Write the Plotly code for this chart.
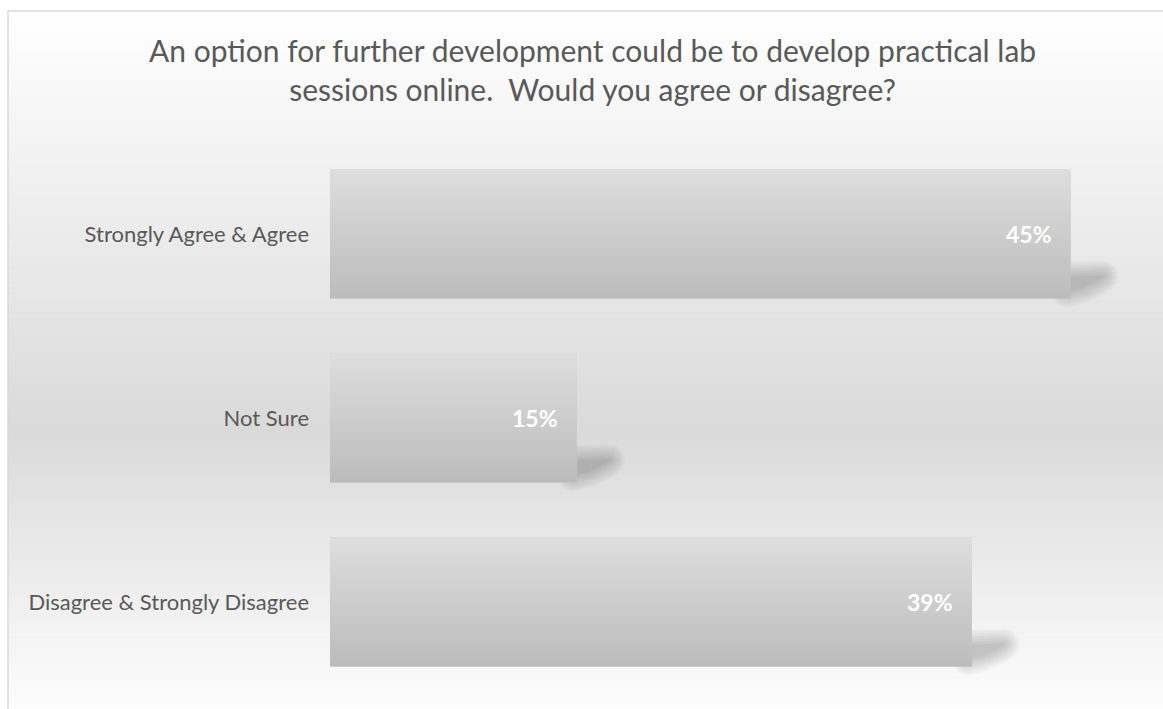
import math
import plotly.graph_objects as go

categories = ["Strongly Agree & Agree", "Not Sure", "Disagree & Strongly Disagree"]
values = [45, 15, 39]
labels = ["45%", "15%", "39%"]
title_text = "An option for further development could be to develop practical lab<br>sessions online.  Would you agree or disagree?"

W, H = 1163, 709
L, R, T, B = 330, 43, 142, 15
XMAX = 48
PW, PH = W - L - R, H - T - B
BAR_W = 0.7

def px_x(px):
    return (px - L) / PW

def px_y(py):
    return (H - B - py) / PH

def lerp(a, b, t):
    return a + (b - a) * t

def dilate(poly, d, arc_steps=6):
    """Minkowski sum of a convex polygon with a disc of radius d."""
    n = len(poly)
    area = sum(poly[k][0] * poly[(k + 1) % n][1] - poly[(k + 1) % n][0] * poly[k][1] for k in range(n))
    sgn = 1 if area > 0 else -1
    normals = []
    for k in range(n):
        x0, y0 = poly[k]
        x1, y1 = poly[(k + 1) % n]
        ex, ey = x1 - x0, y1 - y0
        ln = math.hypot(ex, ey)
        normals.append((sgn * ey / ln, -sgn * ex / ln))
    out = []
    for k in range(n):
        px, py = poly[k]
        na = normals[k - 1]
        nb = normals[k]
        a0 = math.atan2(na[1], na[0])
        a1 = math.atan2(nb[1], nb[0])
        da = a1 - a0
        while da > math.pi:
            da -= 2 * math.pi
        while da < -math.pi:
            da += 2 * math.pi
        for j in range(arc_steps + 1):
            a = a0 + da * j / arc_steps
            out.append((px + d * math.cos(a), py + d * math.sin(a)))
    return out

shapes = []
# background gradient (frame)
N = 140
top_y, mid_y, bot_y = 11, 430, 709
for k in range(N):
    y0 = top_y + (bot_y - top_y) * k / N
    y1 = top_y + (bot_y - top_y) * (k + 1) / N
    yc = (y0 + y1) / 2
    if yc < mid_y:
        c = lerp(255, 218, (yc - top_y) / (mid_y - top_y))
    else:
        c = lerp(218, 253, (yc - mid_y) / (bot_y - mid_y))
    c = int(round(c))
    shapes.append(dict(type="rect", xref="paper", yref="paper", layer="below",
                       x0=px_x(8), x1=px_x(1200), y0=px_y(y1 + 0.6), y1=px_y(y0),
                       fillcolor=f"rgb({c},{c},{c})", line=dict(width=0)))
# frame border
shapes.append(dict(type="line", xref="paper", yref="paper", layer="below",
                   x0=px_x(8), x1=px_x(8), y0=px_y(11), y1=px_y(720),
                   line=dict(color="#d9d9d9", width=1.5)))
shapes.append(dict(type="line", xref="paper", yref="paper", layer="below",
                   x0=px_x(8), x1=px_x(1200), y0=px_y(11), y1=px_y(11),
                   line=dict(color="#d9d9d9", width=1.5)))

ux = XMAX / PW          # data units per pixel (x)
uy = 3 / PH             # category units per pixel (y)

# soft shadows behind bars (pixel offsets relative to bar end / bar bottom, y down)
core = [(-4, -21), (24, -22), (32, -22), (26, -18), (11, -11), (-4, -7)]
offsets = [16, 14, 12, 10, 8, 6, 4, 2, 0.5]
for i, v in enumerate(values):
    yb = i + BAR_W / 2
    for d in offsets:
        pts = dilate(core, d)
        path = "M " + " L ".join(f"{v + px*ux:.4f},{yb + py*uy:.4f}" for px, py in pts) + " Z"
        shapes.append(dict(type="path", xref="x", yref="y", layer="below",
                           path=path, fillcolor="rgba(0,0,0,0.025)", line=dict(width=0)))

# vertical gradient fill on bars (opaque strips matching each bar's extent)
NS = 45
top_c, bot_c = 222, 188
for i, v in enumerate(values):
    top = i - BAR_W / 2
    for k in range(NS):
        y0 = top + BAR_W * k / NS
        y1 = top + BAR_W * (k + 1) / NS
        c = int(round(lerp(top_c, bot_c, (k + 0.5) / NS)))
        shapes.append(dict(type="rect", xref="x", yref="y", layer="above",
                           x0=0, x1=v, y0=y0, y1=min(y1 + 0.004, top + BAR_W),
                           fillcolor=f"rgb({c},{c},{c})", line=dict(width=0)))

annotations = [dict(x=v, y=c, xref="x", yref="y", text=f"<b>{t}</b>", showarrow=False,
                    xanchor="right", xshift=-17, font=dict(color="white", size=23, family="Lato"))
               for c, v, t in zip(categories, values, labels)]
annotations.append(dict(x=px_x(592), y=px_y(30), xref="paper", yref="paper",
                        text=title_text, showarrow=False, xanchor="center", yanchor="top",
                        align="center", font=dict(family="Lato", size=30, color="#595959")))

fig = go.Figure(go.Bar(
    y=categories, x=values, orientation="h",
    marker=dict(color="#cccccc", line=dict(width=0)),
    hoverinfo="skip",
))

fig.update_layout(
    width=W, height=H,
    margin=dict(l=L, r=R, t=T, b=B, autoexpand=False),
    paper_bgcolor="white", plot_bgcolor="rgba(0,0,0,0)",
    bargap=1 - BAR_W,
    showlegend=False,
    xaxis=dict(range=[0, XMAX], visible=False, fixedrange=True),
    yaxis=dict(autorange="reversed", showgrid=False, zeroline=False, showline=False,
               ticks="", ticklabelstandoff=20,
               tickfont=dict(family="Lato", size=22, color="#595959")),
    shapes=shapes,
    annotations=annotations,
)

fig.write_html("out.html")
